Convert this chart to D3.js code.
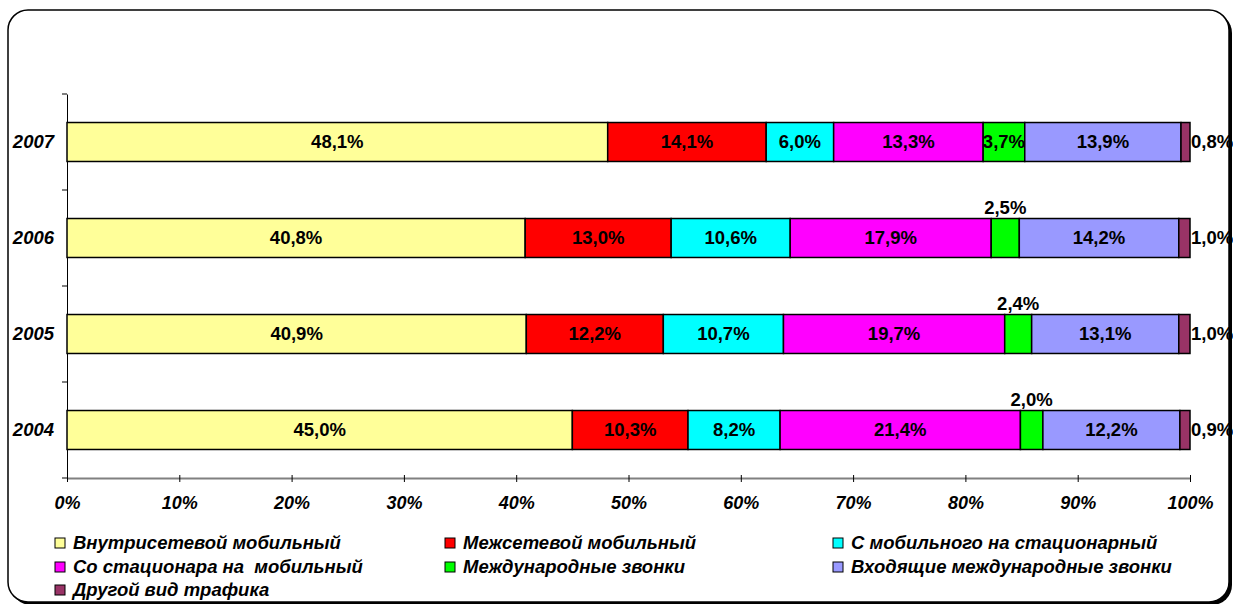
<!DOCTYPE html>
<html>
<head>
<meta charset="utf-8">
<script src="https://cdn.jsdelivr.net/npm/d3@7"></script>
<style>
  body { margin: 0; background: #fff; }
  svg { display: block; font-family: "Liberation Sans", Arial, sans-serif; }
</style>
</head>
<body>
<svg id="chart" width="1233" height="604"></svg>
<script>
// --- data ---
const years = ['2007', '2006', '2005', '2004'];
const seriesNames = [
  'Внутрисетевой мобильный',
  'Межсетевой мобильный',
  'С мобильного на стационарный',
  'Со стационара на  мобильный',
  'Международные звонки',
  'Входящие международные звонки',
  'Другой вид трафика'
];
const v2007 = [48.1, 14.1, 6.0, 13.3, 3.7, 13.9, 0.8];
const v2006 = [40.8, 13.0, 10.6, 17.9, 2.5, 14.2, 1.0];
const v2005 = [40.9, 12.2, 10.7, 19.7, 2.4, 13.1, 1.0];
const v2004 = [45.0, 10.3, 8.2, 21.4, 2.0, 12.2, 0.9];
const xTicks = [0, 0.1, 0.2, 0.3, 0.4, 0.5, 0.6, 0.7, 0.8, 0.9, 1];
const colors = ['#FFFF99', '#FF0000', '#00FFFF', '#FF00FF', '#00FF00', '#9999FF', '#993366'];

const valuesByYear = { '2007': v2007, '2006': v2006, '2005': v2005, '2004': v2004 };
const rows = years.map(y => {
  const r = { year: y };
  seriesNames.forEach((s, i) => r[s] = valuesByYear[y][i]);
  return r;
});

const FONT = '"Liberation Sans", Arial, sans-serif';
const svg = d3.select('#chart');

// frame with shadow
svg.append('rect')
  .attr('x', 11).attr('y', 13).attr('width', 1221).attr('height', 592)
  .attr('rx', 20).attr('fill', '#000');
svg.append('rect')
  .attr('x', 8).attr('y', 10).attr('width', 1221).attr('height', 592)
  .attr('rx', 20).attr('fill', '#fff').attr('stroke', '#000').attr('stroke-width', 1.5);

const x = d3.scaleLinear().domain([0, 1]).range([67, 1190]);
const y = d3.scaleBand().domain(years).range([94, 478]).paddingInner(0.594).paddingOuter(0.297);

const stack = d3.stack().keys(seriesNames).offset(d3.stackOffsetExpand);
const layers = stack(rows);

// x axis
const xAxis = svg.append('g').attr('transform', 'translate(0,478)')
  .call(d3.axisBottom(x).tickValues(xTicks).tickFormat(d3.format('.0%')).tickSize(5).tickSizeOuter(0));
xAxis.select('.domain').attr('stroke', '#808080').attr('stroke-width', 2);
xAxis.selectAll('.tick line').attr('stroke', '#000').attr('y1', -3).attr('y2', 4);
xAxis.selectAll('.tick text')
  .attr('y', 25).attr('dy', '0.35em')
  .attr('font-size', 18).attr('font-weight', 'bold').attr('font-style', 'italic')
  .attr('fill', '#000').attr('font-family', FONT);

// y axis
const yAxis = svg.append('g').attr('transform', 'translate(67,0)')
  .call(d3.axisLeft(y).tickSize(0).tickSizeOuter(0));
yAxis.select('.domain').attr('stroke', '#000').attr('stroke-width', 1);
yAxis.selectAll('.tick text')
  .attr('x', -13)
  .attr('font-size', 18.5).attr('font-weight', 'bold').attr('font-style', 'italic')
  .attr('fill', '#000').attr('font-family', FONT);
// category separator ticks
const step = y.step();
svg.append('g').selectAll('line')
  .data(d3.range(years.length + 1))
  .join('line')
  .attr('x1', 62).attr('x2', 67)
  .attr('y1', i => 94 + i * step).attr('y2', i => 94 + i * step)
  .attr('stroke', '#000');

// bars
const layerG = svg.append('g').selectAll('g')
  .data(layers).join('g')
  .attr('fill', (d, i) => colors[i]);
layerG.selectAll('rect')
  .data(d => d)
  .join('rect')
  .attr('x', d => x(d[0]))
  .attr('y', d => y(d.data.year))
  .attr('width', d => x(d[1]) - x(d[0]))
  .attr('height', y.bandwidth())
  .attr('stroke', '#000').attr('stroke-width', 1.5);

// labels
const fmt = v => v.toFixed(1).replace('.', ',') + '%';
const labelG = svg.append('g')
  .attr('font-size', 18.5).attr('font-weight', 'bold').attr('fill', '#000');
layers.forEach((layer, i) => {
  layer.forEach(d => {
    const val = d.data[layer.key];
    const yr = d.data.year;
    let lx = (x(d[0]) + x(d[1])) / 2;
    let ly = y(yr) + y.bandwidth() / 2;
    let anchor = 'middle';
    if (i === 6) {
      lx = x(d[1]) + 1;
      anchor = 'start';
    } else if (i === 4 && yr !== '2007') {
      ly = y(yr) - 11;
    }
    labelG.append('text')
      .attr('x', lx).attr('y', ly).attr('dy', '0.35em')
      .attr('text-anchor', anchor)
      .text(fmt(val));
  });
});

// legend
const legendPos = [
  [55, 543], [445, 543], [833, 543],
  [55, 567], [445, 567], [833, 567],
  [55, 590]
];
const legend = svg.append('g');
seriesNames.forEach((s, i) => {
  const [lx, ly] = legendPos[i];
  legend.append('rect')
    .attr('x', lx).attr('y', ly - 5).attr('width', 10).attr('height', 10)
    .attr('fill', colors[i]).attr('stroke', '#000').attr('stroke-width', 1);
  legend.append('text')
    .attr('x', lx + 18).attr('y', ly).attr('dy', '0.35em')
    .attr('font-size', 18.5).attr('font-weight', 'bold').attr('font-style', 'italic')
    .style('white-space', 'pre')
    .text(s);
});
</script>
</body>
</html>
